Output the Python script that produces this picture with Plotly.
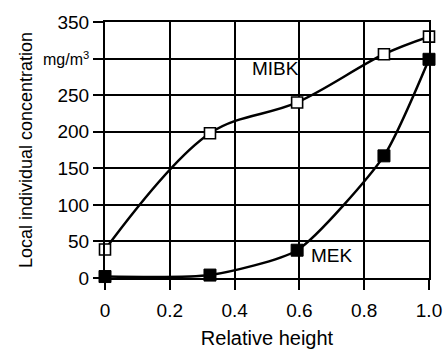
import plotly.graph_objects as go

# Data
mibk_x = [0.0, 0.324, 0.593, 0.861, 1.0]
mibk_y = [39, 198, 240, 306, 330]
mek_x = [0.0, 0.324, 0.593, 0.861, 1.0]
mek_y = [2, 4, 38, 167, 299]

y_tickvals = [0, 50, 100, 150, 200, 250, 300, 350]
y_ticktext = ["0", "50", "100", "150", "200", "250",
              "<span style='font-size:16px'>mg/m<sup>3</sup></span>", "350"]
x_tickvals = [0, 0.2, 0.4, 0.6, 0.8, 1.0]
x_ticktext = ["0", "0.2", "0.4", "0.6", "0.8", "1.0"]

FONT = "Liberation Sans, Arial, sans-serif"

fig = go.Figure()
fig.add_trace(go.Scatter(
    x=mibk_x, y=mibk_y, mode="lines+markers", name="MIBK",
    line=dict(color="black", width=2.5, shape="spline", smoothing=1.0),
    marker=dict(symbol="square", size=11, color="white",
                line=dict(color="black", width=1.6)),
    cliponaxis=False,
))
fig.add_trace(go.Scatter(
    x=mek_x, y=mek_y, mode="lines+markers", name="MEK",
    line=dict(color="black", width=2.5, shape="spline", smoothing=0.6),
    marker=dict(symbol="square", size=12, color="black",
                line=dict(color="black", width=1)),
    cliponaxis=False,
))

fig.add_annotation(x=0.525, y=287, text="MIBK", showarrow=False,
                   font=dict(family=FONT, size=19, color="black"))
fig.add_annotation(x=0.70, y=31, text="MEK", showarrow=False,
                   font=dict(family=FONT, size=19, color="black"))

axis_common = dict(
    showline=True, linecolor="black", linewidth=2, mirror=True,
    showgrid=True, gridcolor="black", gridwidth=1.5,
    ticks="outside", ticklen=10, tickwidth=1.5, tickcolor="black",
    zeroline=False, automargin=False,
    tickfont=dict(family=FONT, size=19, color="black"),
)

fig.update_layout(
    width=444, height=349,
    margin=dict(l=105, r=15, t=22, b=71),
    paper_bgcolor="white", plot_bgcolor="white",
    showlegend=False,
    xaxis=dict(range=[0, 1], tickvals=x_tickvals, ticktext=x_ticktext,
               ticklabelstandoff=4,
               title=dict(text="Relative height",
                          font=dict(family=FONT, size=20, color="black")),
               **axis_common),
    yaxis=dict(range=[0, 350], tickvals=y_tickvals, ticktext=y_ticktext,
               title=dict(text="Local individual concentration", standoff=6,
                          font=dict(family=FONT, size=18, color="black")),
               **axis_common),
)

fig.write_html("out.html")
